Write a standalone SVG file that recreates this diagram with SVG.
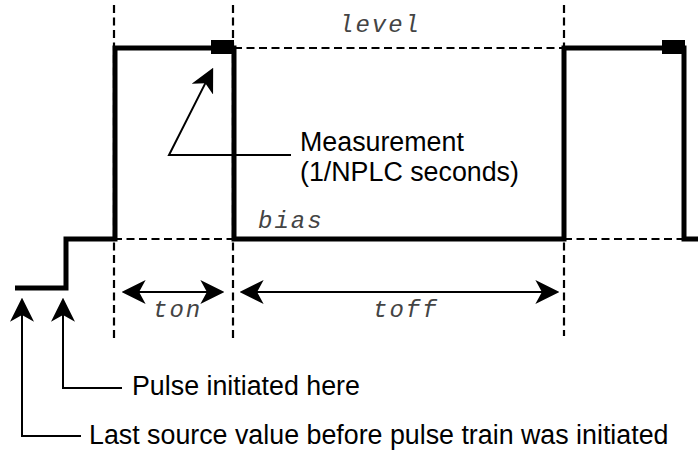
<svg xmlns="http://www.w3.org/2000/svg" width="698" height="451" viewBox="0 0 698 451">
<style>
.dash{stroke:#000;stroke-width:2.2;stroke-dasharray:8 4.5;fill:none}
.wave{stroke:#000;stroke-width:5;fill:none;stroke-linejoin:miter}
.arr{stroke:#000;stroke-width:2;fill:none}
.sans{font-family:"Liberation Sans",Arial,sans-serif;font-size:26.8px;fill:#000}
.mono{font-family:"Liberation Mono","Courier New",monospace;font-style:italic;font-size:24px;letter-spacing:2px;fill:#444}
</style>
<defs>
<marker id="ah" markerUnits="userSpaceOnUse" markerWidth="24" markerHeight="24" viewBox="0 0 22 22" refX="18" refY="11" orient="auto-start-reverse">
<path d="M0,0 L22,11 L0,22 L6,11 Z" fill="#000"/>
</marker>
</defs>
<g id="guides">
<line class="dash" x1="114" y1="5" x2="114" y2="338"/>
<line class="dash" x1="233" y1="5" x2="233" y2="338"/>
<line class="dash" x1="564" y1="5" x2="564" y2="336"/>
<line class="dash" x1="234" y1="48" x2="564" y2="48"/>
<line class="dash" x1="114" y1="239" x2="234" y2="239"/>
<line class="dash" x1="564" y1="239" x2="684" y2="239"/>
</g>
<g id="waveform">
<path class="wave" d="M15,288 H66 V239 H115 V48 H234 V239 H564 V48 H684 V239 H698"/>
<rect id="meas1" x="211" y="40" width="23" height="14" fill="#000"/>
<rect id="meas2" x="662" y="40" width="23" height="14" fill="#000"/>
</g>
<g id="connectors">
<line class="arr" x1="126" y1="292" x2="220" y2="292" marker-start="url(#ah)" marker-end="url(#ah)"/>
<line class="arr" x1="244" y1="292" x2="555" y2="292" marker-start="url(#ah)" marker-end="url(#ah)"/>
<polyline class="arr" points="291,155 169,155 211.2,71.6" marker-end="url(#ah)"/>
<polyline class="arr" points="122,388 63,388 63,302" marker-end="url(#ah)"/>
<polyline class="arr" points="81,436 22,436 22,302" marker-end="url(#ah)"/>
</g>
<g id="labels">
<text class="mono" x="339" y="32">level</text>
<text class="mono" x="258" y="228">bias</text>
<text class="mono" x="153" y="317">ton</text>
<text class="mono" x="373" y="317">toff</text>
<text class="sans" x="300" y="151">Measurement</text>
<text class="sans" x="300" y="181">(1/NPLC seconds)</text>
<text class="sans" x="132" y="395">Pulse initiated here</text>
<text class="sans" x="89" y="444">Last source value before pulse train was initiated</text>
</g>
</svg>
